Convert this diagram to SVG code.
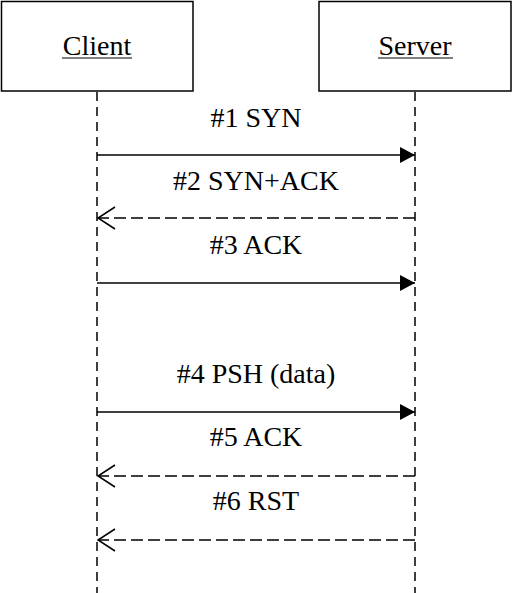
<svg xmlns="http://www.w3.org/2000/svg" width="513" height="593" viewBox="0 0 513 593">
<style>
.box{fill:#fff;stroke:#000;stroke-width:1.5}
.t{font-family:'Liberation Serif','Times New Roman','DejaVu Serif',serif;font-size:28px;fill:#000;text-anchor:middle}
.u{stroke:#555;stroke-width:1.5}
.life{stroke:#000;stroke-width:1.5;stroke-dasharray:9,6;fill:none}
.sol{stroke:#000;stroke-width:1.5;fill:none}
.dsh{stroke:#000;stroke-width:1.5;stroke-dasharray:12,5;fill:none}
</style>
<defs>
<marker id="fill" markerWidth="16" markerHeight="17" refX="15" refY="8.5" orient="auto" markerUnits="userSpaceOnUse">
<path d="M0,0.5 L15,8.5 L0,16.5 Z" fill="#000"/>
</marker>
<marker id="open" markerWidth="20" markerHeight="24" refX="18" refY="12" orient="auto" markerUnits="userSpaceOnUse">
<path d="M1,1 L18,12 L1,23" fill="none" stroke="#000" stroke-width="1.5"/>
</marker>
</defs>
<g id="client">
<rect class="box" x="1.5" y="1.5" width="191.5" height="89.5"/>
<text class="t" x="97" y="55" font-family="Liberation Serif, serif">Client</text>
<line class="u" x1="62" y1="58" x2="132" y2="58"/>
</g>
<g id="server">
<rect class="box" x="319" y="1.5" width="192" height="89.5"/>
<text class="t" x="415" y="55">Server</text>
<line class="u" x1="378" y1="58" x2="453" y2="58"/>
</g>
<g id="lifelines">
<line class="life" x1="97" y1="92" x2="97" y2="593"/>
<line class="life" x1="415" y1="92" x2="415" y2="593"/>
</g>
<g id="connectors">
<line class="sol" x1="97" y1="155" x2="415" y2="155" marker-end="url(#fill)"/>
<line class="dsh" x1="415" y1="218" x2="98" y2="218" marker-end="url(#open)"/>
<line class="sol" x1="97" y1="283" x2="415" y2="283" marker-end="url(#fill)"/>
<line class="sol" x1="97" y1="412" x2="415" y2="412" marker-end="url(#fill)"/>
<line class="dsh" x1="415" y1="476" x2="98" y2="476" marker-end="url(#open)"/>
<line class="dsh" x1="415" y1="540" x2="98" y2="540" marker-end="url(#open)"/>
</g>
<g id="labels">
<text class="t" x="256" y="127">#1 SYN</text>
<text class="t" x="256" y="190">#2 SYN+ACK</text>
<text class="t" x="256" y="254">#3 ACK</text>
<text class="t" x="256" y="383">#4 PSH (data)</text>
<text class="t" x="256" y="446">#5 ACK</text>
<text class="t" x="256" y="510">#6 RST</text>
</g>
</svg>
